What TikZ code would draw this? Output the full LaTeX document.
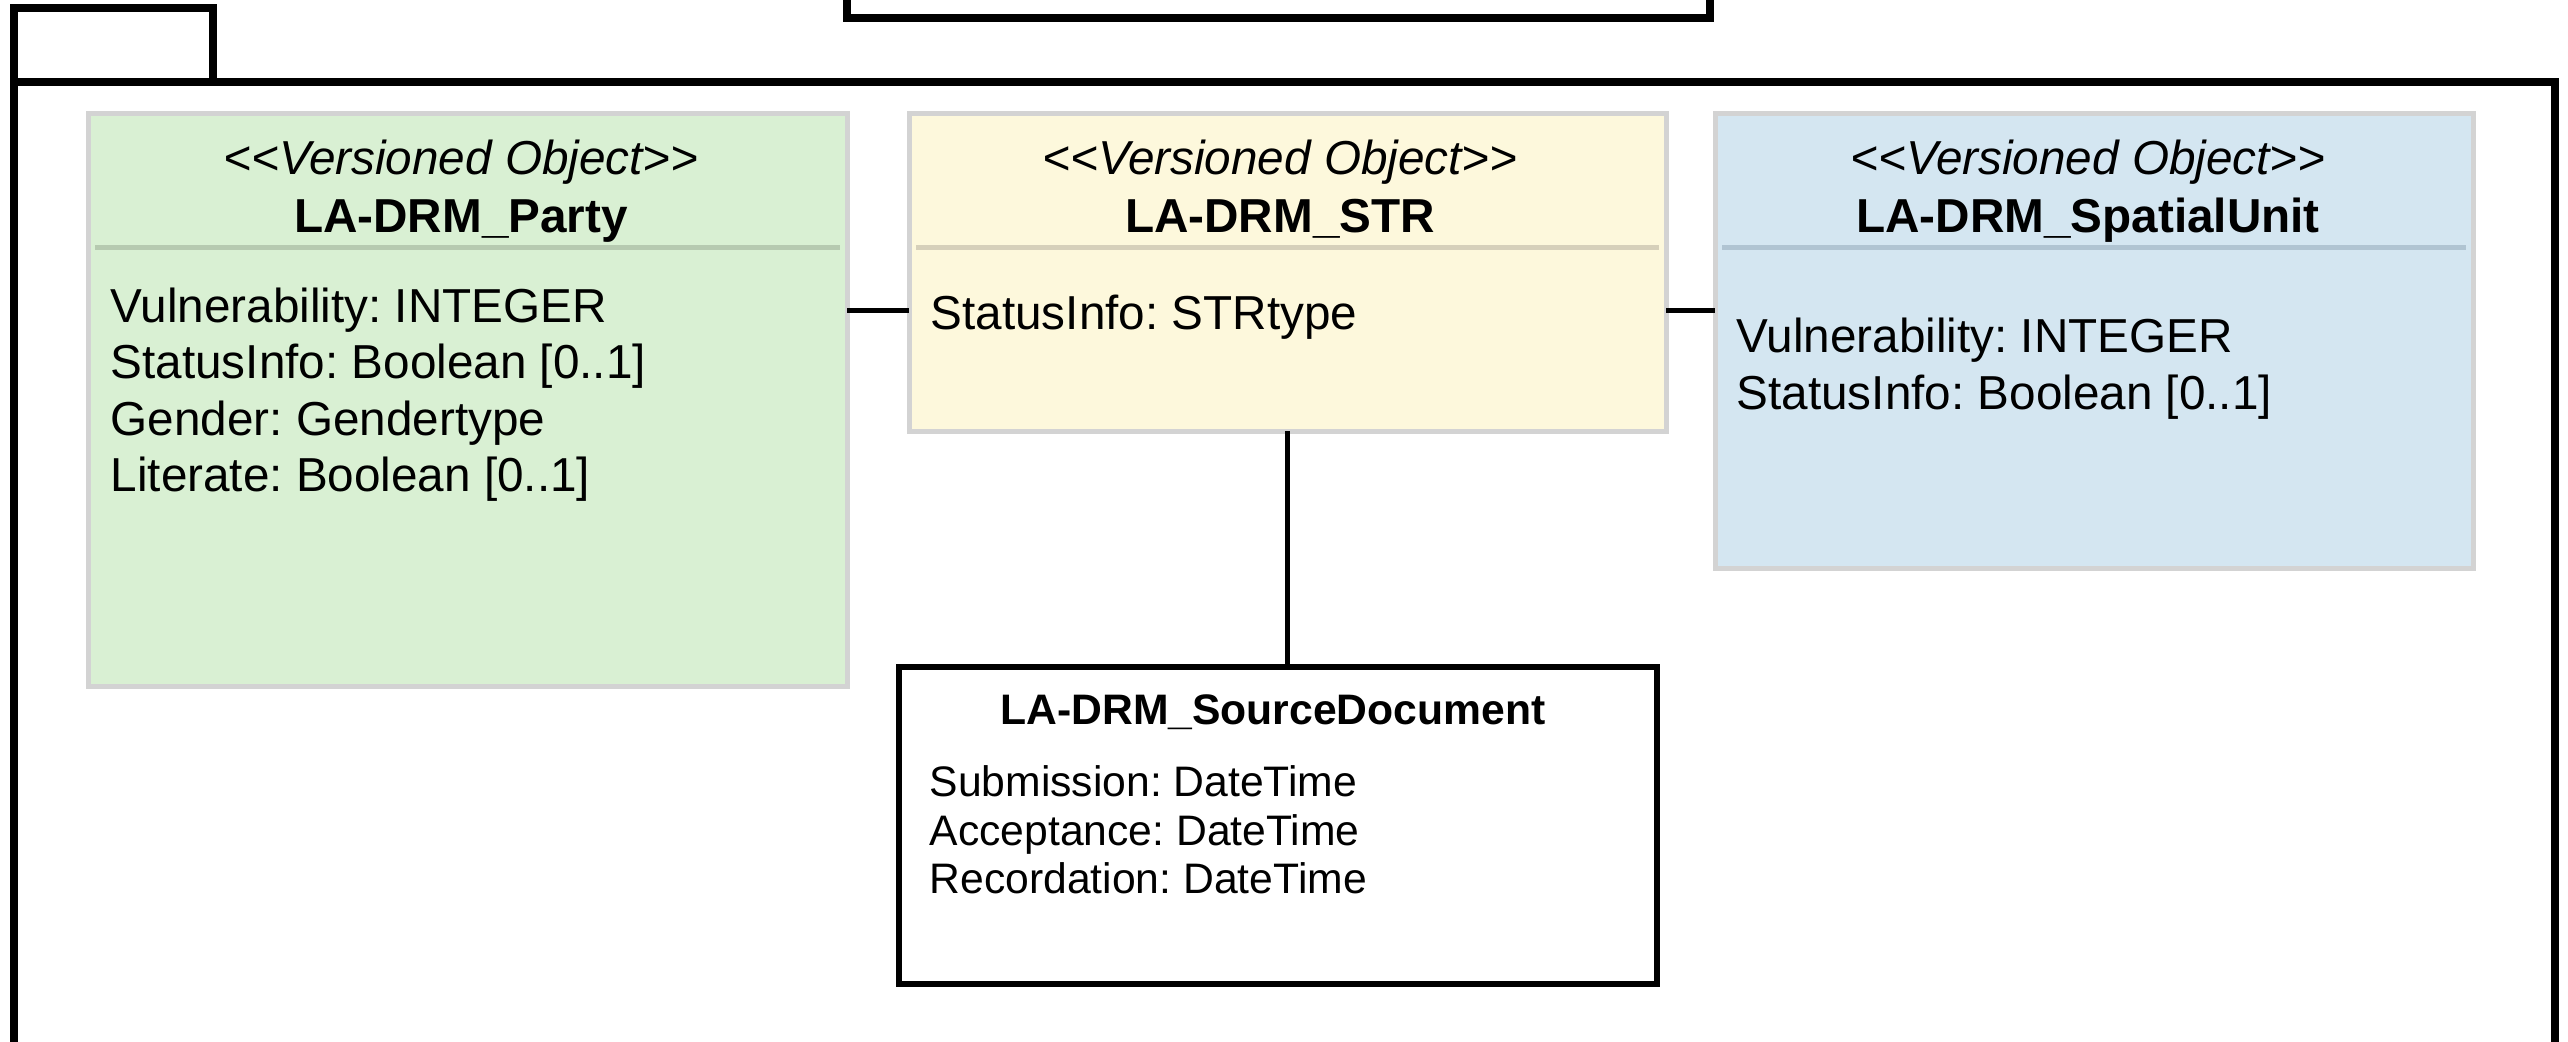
\documentclass[tikz,border=0pt]{standalone}
\usepackage{fontspec}
\setmainfont{Liberation Sans}
\frenchspacing
\definecolor{boxgray}{RGB}{211,211,211}
\definecolor{pgreen}{RGB}{217,240,211}
\definecolor{pyellow}{RGB}{253,248,220}
\definecolor{pblue}{RGB}{212,230,241}
\definecolor{sgreen}{RGB}{182,202,176}
\definecolor{syellow}{RGB}{214,208,186}
\definecolor{sblue}{RGB}{176,196,210}
\newcommand{\stereotxt}{<{}<Versioned Object>{}>}
\begin{document}
\begin{tikzpicture}[x=0.3pt,y=-0.3pt,
  classbox/.style={draw=boxgray,line width=1.5pt,anchor=north west,inner sep=0pt,outer sep=0pt},
  docbox/.style={draw=black,line width=1.6pt,fill=white,anchor=north west,inner sep=0pt,outer sep=0pt},
  frameline/.style={draw=black,line width=2.4pt},
  sepline/.style={line width=1.5pt},
  conn/.style={draw=black,line width=1.5pt},
  stereo/.style={font=\fontsize{14.3}{17}\selectfont\itshape,anchor=base,inner sep=0pt},
  ctitle/.style={font=\fontsize{14.3}{17}\selectfont\bfseries,anchor=base,inner sep=0pt},
  attr/.style={font=\fontsize{14.3}{17}\selectfont,anchor=base west,inner sep=0pt},
  dtitle/.style={font=\fontsize{12.8}{15.4}\selectfont\bfseries,anchor=base,inner sep=0pt},
  dattr/.style={font=\fontsize{12.8}{15.4}\selectfont,anchor=base west,inner sep=0pt}]
\useasboundingbox (0,0) rectangle (2568,1041);
\clip (0,0) rectangle (2568,1041);
\fill[white] (0,0) rectangle (2568,1041);

% package frame and tab
\draw[frameline] (14,8) rectangle (213,82);
\draw[frameline] (14,1100) -- (14,82) -- (2555,82) -- (2555,1100);
% top box (partially visible)
\draw[frameline] (847,-40) rectangle (1710,18);

% class boxes
\node[classbox,fill=pgreen,minimum width=227.7pt,minimum height=171.9pt] (party) at (88,113) {};
\node[classbox,fill=pyellow,minimum width=227.1pt,minimum height=95.4pt] (str) at (909,113) {};
\node[classbox,fill=pblue,minimum width=227.4pt,minimum height=136.5pt] (su) at (1715,113) {};
\node[docbox,minimum width=227.4pt,minimum height=95.1pt] (sd) at (899,667) {};

% separators
\draw[sepline,sgreen] (95,247) -- (840,247);
\draw[sepline,syellow] (916,247) -- (1659,247);
\draw[sepline,sblue] (1722,247) -- (2466,247);

% Party texts
\node[stereo] (pst) at (461,174) {\stereotxt};
\node[ctitle] (pti) at (461,232) {LA-DRM\_Party};
\node[attr] (pa1) at (110,322) {Vulnerability: INTEGER};
\node[attr] (pa2) at (110,378) {StatusInfo: Boolean [0..1]};
\node[attr] (pa3) at (110,435) {Gender: Gendertype};
\node[attr] (pa4) at (110,491) {Literate: Boolean [0..1]};

% STR texts
\node[stereo] (sst) at (1280,174) {\stereotxt};
\node[ctitle] (sti) at (1280,232) {LA-DRM\_STR};
\node[attr] (sa1) at (930,329) {StatusInfo: STRtype};

% SpatialUnit texts
\node[stereo] (ust) at (2088,174) {\stereotxt};
\node[ctitle] (uti) at (2088,232) {LA-DRM\_SpatialUnit};
\node[attr] (ua1) at (1736,352) {Vulnerability: INTEGER};
\node[attr] (ua2) at (1736,409) {StatusInfo: Boolean [0..1]};

% SourceDocument texts
\node[dtitle] (dti) at (1273,724) {LA-DRM\_SourceDocument};
\node[dattr] (da1) at (929,796) {Submission: DateTime};
\node[dattr] (da2) at (929,845) {Acceptance: DateTime};
\node[dattr] (da3) at (929,893) {Recordation: DateTime};

% connectors
\coordinate (ly) at (0,310);
\draw[conn] (party.east |- ly) -- (str.west |- ly);
\draw[conn] (str.east |- ly) -- (su.west |- ly);
\draw[conn] (str.south) -- (str.south |- sd.north);
\end{tikzpicture}
\end{document}
